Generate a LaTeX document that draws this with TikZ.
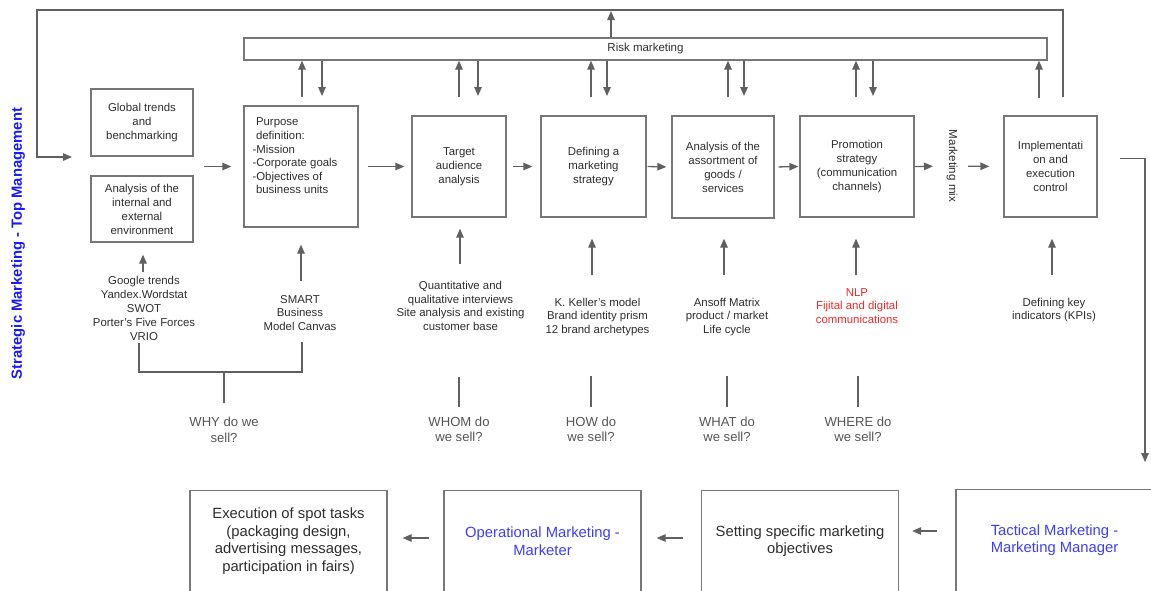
\documentclass[tikz,border=0pt]{standalone}
\usepackage{fontspec}
\setmainfont{Liberation Sans}
\usetikzlibrary{arrows.meta}
\definecolor{ln}{RGB}{96,96,96}
\definecolor{bx}{RGB}{118,118,118}
\definecolor{txt}{RGB}{45,45,45}
\definecolor{qtxt}{RGB}{85,85,85}
\definecolor{sblue}{RGB}{25,25,250}
\definecolor{lblue}{RGB}{60,60,250}
\definecolor{redc}{RGB}{235,40,40}
\begin{document}
\begin{tikzpicture}[x=1pt,y=-1pt,
  box/.style={draw=bx, line width=1.3pt, align=center, text=txt,
    font=\fontsize{11.4}{14}\selectfont, inner sep=0pt},
  arr/.style={draw=ln, line width=1.3pt, -{Triangle[length=9pt,width=7.5pt]}},
  conn/.style={draw=ln, line width=1.3pt},
  tool/.style={align=center, text=txt, font=\fontsize{11.4}{13.8}\selectfont, inner sep=1pt},
  quest/.style={align=center, text=qtxt, font=\fontsize{13.1}{15.5}\selectfont, inner sep=1pt},
  big/.style={box, font=\fontsize{14.8}{17.6}\selectfont, minimum width=197pt, minimum height=106pt}
]
\useasboundingbox (0,0) rectangle (1151,590);
\clip (0,0) rectangle (1151,590);

% side title
\node[rotate=90, text=sblue, font=\fontsize{14.8}{17}\selectfont\bfseries] (title) at (18,243.5)
  {Strategic Marketing - Top Management};

% risk band
\node[box, minimum width=803pt, minimum height=22pt, font=\fontsize{11.5}{14}\selectfont] (risk) at (645.5,49) {Risk marketing};

% strategic stages
\node[box, minimum width=102pt, minimum height=67pt] (glob) at (142,122.5) {Global trends\\and\\benchmarking};
\node[box, minimum width=102pt, minimum height=66pt] (envr) at (142,209) {Analysis of the\\internal and\\external\\environment};
\node[box, minimum width=114pt, minimum height=121pt,
  label={[anchor=north west, align=left, text=txt, font=\fontsize{11.4}{13.6}\selectfont,
          inner sep=0pt, xshift=9pt, yshift=-12.5pt]north west:{\hspace*{3.5pt}Purpose\\\hspace*{3.5pt}definition:\\-Mission\\-Corporate goals\\-Objectives of\\\hspace*{3.5pt}business units}}]
  (purp) at (301,166.5) {};
\node[box, minimum width=94pt, minimum height=101pt] (targ) at (459,166.5) {Target\\audience\\analysis};
\node[box, minimum width=105pt, minimum height=101pt] (defn) at (593.5,166.5) {Defining a\\marketing\\strategy};
\node[box, minimum width=102pt, minimum height=102pt] (asso) at (723,167) {Analysis of the\\assortment of\\goods /\\services};
\node[box, minimum width=114pt, minimum height=101pt] (prom) at (857,166.5) {Promotion\\strategy\\(communication\\channels)};
\node[rotate=-90, text=txt, font=\fontsize{11.6}{14}\selectfont, inner sep=1pt] (mix) at (952,166) {Marketing mix};
\node[box, minimum width=93pt, minimum height=101pt] (impl) at (1050.5,166.5) {Implementati\\on and\\execution\\control};

% tools under each stage
\node[tool] (tGlob) at (144,308.5) {Google trends\\Yandex.Wordstat\\SWOT\\Porter's Five Forces\\VRIO};
\node[tool] (tSmart) at (300,313) {SMART\\Business\\Model Canvas};
\node[tool] (tTarg) at (460.5,306) {Quantitative and\\qualitative interviews\\Site analysis and existing\\customer base};
\node[tool] (tDef) at (597.5,317) {K. Keller's model\\Brand identity prism\\12 brand archetypes};
\node[tool] (tAss) at (727,317) {Ansoff Matrix\\product / market\\Life cycle};
\node[tool, text=redc] (tProm) at (857,306) {NLP\\Fijital and digital\\communications};
\node[tool] (tImpl) at (1054,310) {Defining key\\indicators (KPIs)};

% key questions
\node[quest] (qWhy) at (224,430) {WHY do we\\sell?};
\node[quest] (qWhom) at (459,429.5) {WHOM do\\we sell?};
\node[quest] (qHow) at (591,429.5) {HOW do\\we sell?};
\node[quest] (qWhat) at (727,429.5) {WHAT do\\we sell?};
\node[quest] (qWhere) at (858,429.5) {WHERE do\\we sell?};

% lower levels (boxes run past the lower edge)
\node[big, anchor=north] (exec) at (288.5,490) {};
\node[text=txt, align=center, font=\fontsize{14.8}{17.6}\selectfont, inner sep=0pt] (execT) at (288.5,541)
  {Execution of spot tasks\\(packaging design,\\advertising messages,\\participation in fairs)};
\node[big, anchor=north] (oper) at (542.5,490) {};
\node[text=lblue, align=center, font=\fontsize{14.8}{17.6}\selectfont, inner sep=0pt] (operT) at (542.5,541)
  {Operational Marketing -\\Marketer};
\node[big, anchor=north] (sett) at (800,490) {};
\node[text=txt, align=center, font=\fontsize{14.8}{17.6}\selectfont, inner sep=0pt] (settT) at (800,541)
  {Setting specific marketing\\objectives};
\node[big, anchor=north] (tact) at (1054.5,489) {};
\node[text=lblue, align=center, font=\fontsize{14.8}{17.6}\selectfont, inner sep=0pt] (tactT) at (1054.5,540)
  {Tactical Marketing -\\Marketing Manager};

% feedback loop over the top
\coordinate (fS) at (1063,97);
\coordinate (fTopR) at (1063,10);
\coordinate (fTopL) at (37,10);
\coordinate (fEnd) at (72,157);
\draw[arr] (fS) -- (fTopR) -- (fTopL) |- (fEnd);
\coordinate (rUp) at (611,11);
\draw[arr] (risk.north -| rUp) -- (rUp);

% exchanges with the risk band
\foreach \n/\ux/\dx in {a/302/322, b/459/478, c/591/607, d/728/744, e/856/873} {
  \coordinate (up\n) at (\ux,97);
  \coordinate (dn\n) at (\dx,96);
  \draw[arr] (up\n) -- (up\n |- risk.south);
  \draw[arr] (risk.south -| dn\n) -- (dn\n);
}
\coordinate (upf) at (1039,98);
\draw[arr] (upf) -- (upf |- risk.south);

% main flow
\coordinate (lgOut) at (204,166.5);
\draw[arr, shorten >=12pt] (lgOut) -- (purp.west);
\draw[arr, shorten <=9pt, shorten >=7pt] (purp.east) -- (targ.west);
\draw[arr, shorten <=6pt, shorten >=8pt] (targ.east) -- (defn.west);
\draw[arr, shorten <=1pt, shorten >=5pt] (defn.east) -- (asso.west);
\draw[arr, shorten <=4pt, shorten >=1pt] (asso.east) -- (prom.west);
\draw[arr, shorten >=19pt] (prom.east) -- (mix.center);
\draw[arr, shorten <=16pt, shorten >=14pt] (mix.center) -- (impl.west);

% tools feeding the stages
\coordinate (aG) at (143,272);
\coordinate (aS) at (301,281);
\coordinate (aT) at (460,264);
\coordinate (aD) at (592,275);
\coordinate (aA) at (724,275);
\coordinate (aP) at (856,275);
\coordinate (aI) at (1052,275);
\draw[arr, shorten >=12pt] (aG) -- (aG |- envr.south);
\draw[arr, shorten >=17pt] (aS) -- (aS |- purp.south);
\draw[arr, shorten >=11pt] (aT) -- (aT |- targ.south);
\draw[arr, shorten >=21pt] (aD) -- (aD |- defn.south);
\draw[arr, shorten >=20pt] (aA) -- (aA |- asso.south);
\draw[arr, shorten >=21pt] (aP) -- (aP |- prom.south);
\draw[arr, shorten >=21pt] (aI) -- (aI |- impl.south);

% bracket to the first question
\coordinate (bL) at (139,343);
\coordinate (bR) at (302,342);
\coordinate (bM) at (224,372);
\draw[conn] (bL) |- (bM) -| (bR);
\draw[conn, shorten >=13pt] (bM) -- (bM |- qWhy.north);

% stems to the other questions
\coordinate (sWhom) at (459,377);
\coordinate (sHow) at (591,376);
\coordinate (sWhat) at (727,376);
\coordinate (sWhere) at (858,376);
\draw[conn, shorten >=9pt] (sWhom) -- (sWhom |- qWhom.north);
\draw[conn, shorten >=9pt] (sHow) -- (sHow |- qHow.north);
\draw[conn, shorten >=9pt] (sWhat) -- (sWhat |- qWhat.north);
\draw[conn, shorten >=9pt] (sWhere) -- (sWhere |- qWhere.north);

% down to the tactical level
\coordinate (rA) at (1120,158.5);
\coordinate (rB) at (1145,462);
\draw[arr] (rA) -| (rB);

% lower level flow
\coordinate (bA1) at (937,531);
\coordinate (bA2) at (683,538);
\coordinate (bA3) at (429,538);
\draw[arr, shorten >=13pt] (bA1) -- (bA1 -| sett.east);
\draw[arr, shorten >=15pt] (bA2) -- (bA2 -| oper.east);
\draw[arr, shorten >=15pt] (bA3) -- (bA3 -| exec.east);
\end{tikzpicture}
\end{document}
